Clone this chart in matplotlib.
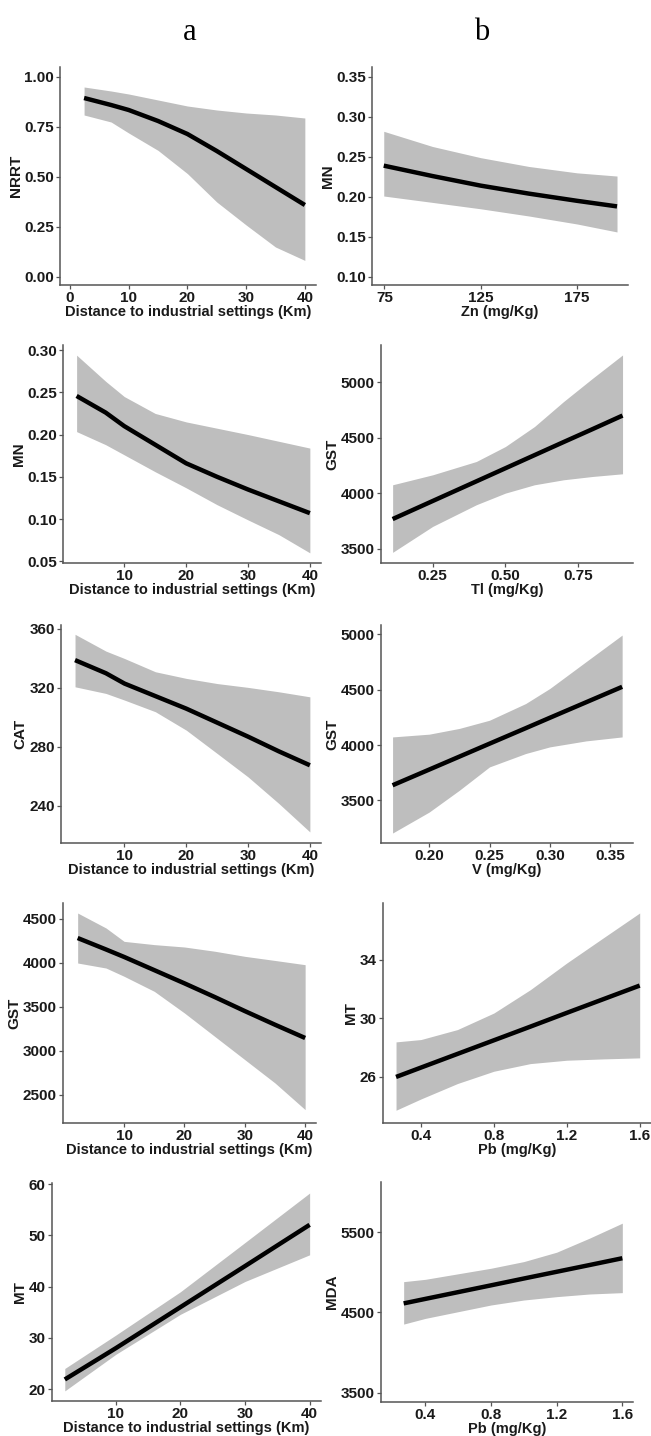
import matplotlib
matplotlib.use("Agg")
import matplotlib.pyplot as plt
from matplotlib.ticker import FormatStrFormatter

W, H = 651, 1436
DIST_LABEL = "Distance to industrial settings (Km)"

# ---- column a: response vs distance to industrial settings ----
a1_x     = [2.4, 7, 10, 15, 20, 25, 30, 35, 40]
a1_fit   = [0.895, 0.86, 0.835, 0.78, 0.715, 0.63, 0.54, 0.45, 0.36]
a1_upper = [0.95, 0.93, 0.915, 0.885, 0.855, 0.835, 0.82, 0.81, 0.795]
a1_lower = [0.81, 0.775, 0.72, 0.633, 0.517, 0.375, 0.26, 0.15, 0.083]

a2_x     = [2.3, 7, 10, 15, 20, 25, 30, 35, 40]
a2_fit   = [0.2457, 0.226, 0.21, 0.188, 0.166, 0.15, 0.135, 0.121, 0.107]
a2_upper = [0.294, 0.263, 0.245, 0.225, 0.215, 0.2075, 0.2, 0.192, 0.184]
a2_lower = [0.2035, 0.188, 0.176, 0.156, 0.137, 0.117, 0.099, 0.0815, 0.06]

a3_x     = [2.0, 7, 10, 15, 20, 25, 30, 35, 40]
a3_fit   = [338.9, 330, 323, 314.5, 306, 296.5, 287, 277, 267.6]
a3_upper = [356.4, 345, 340, 331, 326.5, 323, 320.4, 317.4, 314]
a3_lower = [320.8, 316.3, 311.8, 303.9, 291.4, 275.6, 259.7, 241.6, 222.4]

a4_x     = [2.3, 7, 10, 15, 20, 25, 30, 35, 40]
a4_fit   = [4280, 4150, 4065, 3915, 3765, 3610, 3450, 3295, 3144]
a4_upper = [4564, 4394, 4242, 4205, 4178, 4130, 4072, 4025, 3977]
a4_lower = [3996, 3939, 3845, 3674, 3428, 3163, 2898, 2633, 2330]

a5_x     = [2.1, 10, 20, 30, 40]
a5_fit   = [21.9, 28.0, 36.0, 44.0, 52.05]
a5_upper = [24.04, 30.55, 39.0, 48.6, 58.24]
a5_lower = [19.67, 26.8, 34.6, 41.0, 46.2]

# ---- column b: response vs soil metal concentration ----
b1_x     = [74.7, 100, 125, 150, 175, 195.8]
b1_fit   = [0.239, 0.226, 0.214, 0.204, 0.195, 0.188]
b1_upper = [0.282, 0.263, 0.249, 0.238, 0.23, 0.226]
b1_lower = [0.201, 0.193, 0.185, 0.176, 0.166, 0.156]

b2_x     = [0.112, 0.25, 0.4, 0.5, 0.6, 0.7, 0.8, 0.903]
b2_fit   = [3767, 3930, 4107, 4225, 4343, 4461, 4578, 4700]
b2_upper = [4076, 4166, 4286, 4421, 4601, 4826, 5036, 5246]
b2_lower = [3467, 3701, 3896, 4001, 4076, 4121, 4151, 4175]

b3_x     = [0.1696, 0.2, 0.225, 0.25, 0.28, 0.3, 0.33, 0.36]
b3_fit   = [3636, 3778, 3895, 4012, 4152, 4246, 4386, 4526]
b3_upper = [4073, 4098, 4150, 4224, 4375, 4511, 4753, 4994]
b3_lower = [3204, 3394, 3591, 3802, 3923, 3983, 4037, 4073]

b4_x     = [0.263, 0.4, 0.6, 0.8, 1.0, 1.2, 1.4, 1.6]
b4_fit   = [26.0, 26.64, 27.57, 28.5, 29.43, 30.37, 31.3, 32.23]
b4_upper = [28.39, 28.55, 29.23, 30.36, 31.95, 33.77, 35.48, 37.18]
b4_lower = [23.73, 24.5, 25.55, 26.39, 26.91, 27.14, 27.23, 27.3]

b5_x     = [0.268, 0.4, 0.8, 1.0, 1.2, 1.4, 1.6]
b5_fit   = [4612, 4668, 4837, 4922, 5006, 5090, 5175]
b5_upper = [4883, 4912, 5050, 5133, 5250, 5425, 5612]
b5_lower = [4354, 4425, 4592, 4654, 4696, 4729, 4746]

# panel: (pixel box l, r, t, b), data, ylabel, xlabel, xlim, ylim, xticks, yticks, xfmt, yfmt
PANELS = [
    ((60, 316, 67, 285), (a1_x, a1_fit, a1_upper, a1_lower), "NRRT", DIST_LABEL,
     (-1.7, 41.9), (-0.04, 1.05), [0, 10, 20, 30, 40], [0, 0.25, 0.5, 0.75, 1.0], "%d", "%.2f"),
    ((372, 628, 67, 285), (b1_x, b1_fit, b1_upper, b1_lower), "MN", "Zn (mg/Kg)",
     (68.6, 201.5), (0.0896, 0.3625), [75, 125, 175], [0.10, 0.15, 0.20, 0.25, 0.30, 0.35], "%d", "%.2f"),
    ((63, 321, 345, 563), (a2_x, a2_fit, a2_upper, a2_lower), "MN", DIST_LABEL,
     (0.1, 41.8), (0.048, 0.306), [10, 20, 30, 40], [0.05, 0.10, 0.15, 0.20, 0.25, 0.30], "%d", "%.2f"),
    ((381, 633, 345, 563), (b2_x, b2_fit, b2_upper, b2_lower), "GST", "Tl (mg/Kg)",
     (0.072, 0.939), (3371, 5336), [0.25, 0.5, 0.75], [3500, 4000, 4500, 5000], "%.2f", "%d"),
    ((61, 321, 625, 843), (a3_x, a3_fit, a3_upper, a3_lower), "CAT", DIST_LABEL,
     (-0.27, 41.8), (214.9, 362.7), [10, 20, 30, 40], [240, 280, 320, 360], "%d", "%d"),
    ((381, 633, 625, 843), (b3_x, b3_fit, b3_upper, b3_lower), "GST", "V (mg/Kg)",
     (0.16, 0.369), (3114, 5085), [0.20, 0.25, 0.30, 0.35], [3500, 4000, 4500, 5000], "%.2f", "%d"),
    ((63, 316, 903, 1123), (a4_x, a4_fit, a4_upper, a4_lower), "GST", DIST_LABEL,
     (-0.13, 41.8), (2178, 4678), [10, 20, 30, 40], [2500, 3000, 3500, 4000, 4500], "%d", "%d"),
    ((383, 651, 903, 1123), (b4_x, b4_fit, b4_upper, b4_lower), "MT", "Pb (mg/Kg)",
     (0.1915, 1.662), (22.86, 37.86), [0.4, 0.8, 1.2, 1.6], [26, 30, 34], "%.1f", "%d"),
    ((52, 321, 1183, 1401), (a5_x, a5_fit, a5_upper, a5_lower), "MT", DIST_LABEL,
     (0.12, 41.76), (17.7, 60.2), [10, 20, 30, 40], [20, 30, 40, 50, 60], "%d", "%d"),
    ((381, 633, 1182, 1402), (b5_x, b5_fit, b5_upper, b5_lower), "MDA", "Pb (mg/Kg)",
     (0.13, 1.665), (3383, 6125), [0.4, 0.8, 1.2, 1.6], [3500, 4500, 5500], "%.1f", "%d"),
]

plt.rcParams["font.family"] = ["Liberation Sans", "DejaVu Sans"]
plt.rcParams["font.weight"] = "bold"

fig = plt.figure(figsize=(W / 100, H / 100), dpi=100)

for (l, r, t, b), (x, fit, up, lo), ylab, xlab, xlim, ylim, xt, yt, xf, yf in PANELS:
    ax = fig.add_axes([l / W, 1 - b / H, (r - l) / W, (b - t) / H])
    ax.fill_between(x, lo, up, color="#bebebe", lw=0)
    ax.plot(x, fit, color="black", lw=3.2, solid_capstyle="butt")
    ax.set_xlim(*xlim); ax.set_ylim(*ylim)
    ax.set_xticks(xt); ax.set_yticks(yt)
    ax.xaxis.set_major_formatter(FormatStrFormatter(xf))
    ax.yaxis.set_major_formatter(FormatStrFormatter(yf))
    for s in ("top", "right"):
        ax.spines[s].set_visible(False)
    for s in ("left", "bottom"):
        ax.spines[s].set_color("#555555")
        ax.spines[s].set_linewidth(1.1)
    ax.tick_params(length=3, width=0.9, color="#555555", pad=1.5,
                   labelsize=11, labelcolor="#1a1a1a")
    for lab in ax.get_xticklabels() + ax.get_yticklabels():
        lab.set_fontweight("bold")
    ax.set_xlabel(xlab, fontsize=10.5, fontweight="bold", color="#1a1a1a", labelpad=0)
    ax.set_ylabel(ylab, fontsize=11, fontweight="bold", color="#1a1a1a", labelpad=1)

fig.text(190 / W, 1 - 32 / H, "a", ha="center", va="center",
         fontsize=22, family="Liberation Serif", fontweight="normal")
fig.text(482 / W, 1 - 32 / H, "b", ha="center", va="center",
         fontsize=22, family="Liberation Serif", fontweight="normal")

fig.savefig("out.png", dpi=100)
